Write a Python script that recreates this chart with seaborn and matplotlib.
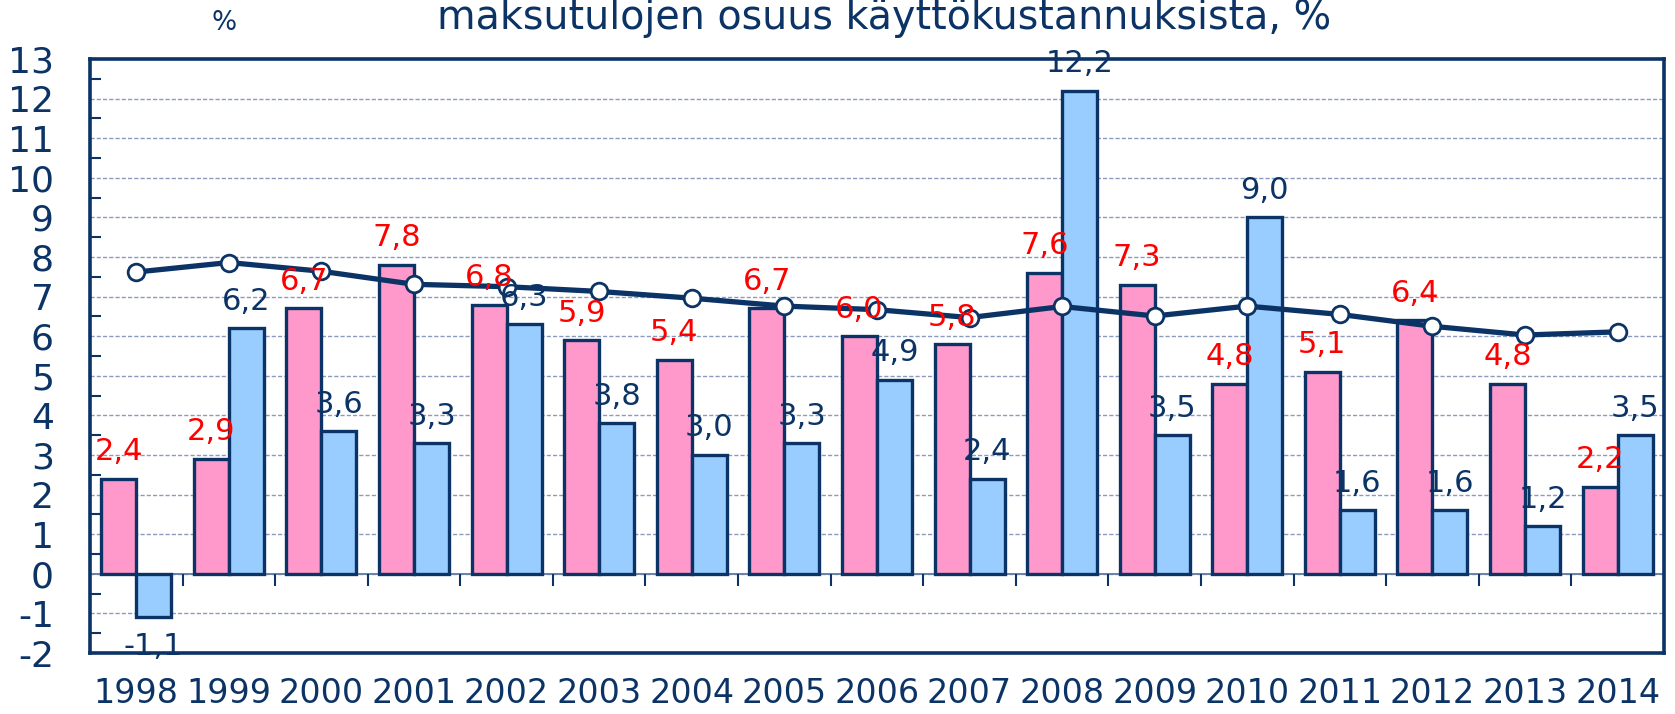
import numpy as np
import pandas as pd
import matplotlib
matplotlib.use("Agg")
import matplotlib.pyplot as plt
import seaborn as sns

# Chart data
years = [str(y) for y in range(1998, 2015)]
pink_vals = [2.4, 2.9, 6.7, 7.8, 6.8, 5.9, 5.4, 6.7, 6.0, 5.8, 7.6, 7.3, 4.8, 5.1, 6.4, 4.8, 2.2]
blue_vals = [-1.1, 6.2, 3.6, 3.3, 6.3, 3.8, 3.0, 3.3, 4.9, 2.4, 12.2, 3.5, 9.0, 1.6, 1.6, 1.2, 3.5]
line_vals = [7.62, 7.86, 7.64, 7.31, 7.25, 7.13, 6.96, 6.76, 6.67, 6.47, 6.75, 6.51, 6.76, 6.55, 6.25, 6.03, 6.11]
series_names = ["maksutulojen muutos", "käyttökustannusten muutos"]
title = "maksutulojen osuus käyttökustannuksista, %"

navy = "#0b3366"
pink = "#ff99cc"
blue = "#99ccff"

sns.set_style("white")
plt.rcParams['font.family'] = ['DejaVu Sans']
plt.rcParams['axes.unicode_minus'] = False

df = pd.DataFrame({
    "year": years * 2,
    "value": pink_vals + blue_vals,
    "series": [series_names[0]] * len(years) + [series_names[1]] * len(years),
})

fig = plt.figure(figsize=(16.75, 7.14), dpi=100)
ax = fig.add_axes([0.0537, 0.0854, 0.9397, 0.832])

sns.barplot(data=df, x="year", y="value", hue="series", order=years,
            hue_order=series_names, palette=[pink, blue], width=0.756,
            edgecolor=navy, linewidth=2.4, saturation=1, legend=False, ax=ax)

xs = np.arange(len(years))

# grid and zero line
for v in range(-1, 13):
    ax.axhline(v, color="#8a9bbb", lw=1.0, ls=(0, (3, 1.5)), zorder=0)
ax.axhline(0, color="#6a82a8", lw=1.4, zorder=0.5)
# category boundary ticks on the zero line
ax.vlines(xs[:-1] + 0.5, -0.3, 0, color=navy, lw=1.5, zorder=1)

ax.plot(xs, line_vals, color=navy, lw=3.8, marker="o", markersize=12,
        markerfacecolor="white", markeredgecolor=navy, markeredgewidth=2.0, zorder=5)

# data labels
def fmt(v):
    return f"{v:.1f}".replace(".", ",")

for cont, col in zip(ax.containers, ["#ff0000", navy]):
    for bar in cont:
        h = bar.get_height()
        cx = bar.get_x() + bar.get_width() / 2
        off = 19.5 if h >= 0 else -21
        ax.annotate(fmt(h), (cx, h), xytext=(0, off), textcoords="offset points",
                    ha="center", va="center", fontsize=22, color=col, zorder=6)

ax.set_xlim(-0.5, len(years) - 0.5)
ax.set_ylim(-2, 13)
ax.set_yticks(range(-2, 14))
ax.set_yticks(np.arange(-1.5, 13, 1.0), minor=True)
ax.tick_params(axis="y", which="major", direction="out", length=8, width=1.8,
               color=navy, labelsize=26, labelcolor=navy, pad=18)
ax.tick_params(axis="y", which="minor", direction="in", length=8, width=1.5,
               color=navy, left=True)
ax.tick_params(axis="x", length=0, labelsize=24, labelcolor=navy, pad=17)
ax.set_xlabel("")
ax.set_ylabel("")

for s in ax.spines.values():
    s.set_color(navy)
    s.set_linewidth(2.6)

fig.text(0.528, 0.960, title, ha="center", va="baseline", fontsize=28.5, color=navy)
fig.text(0.134, 0.968, "%", ha="center", va="center", fontsize=19, color=navy)

fig.savefig("out.png", dpi=100)
